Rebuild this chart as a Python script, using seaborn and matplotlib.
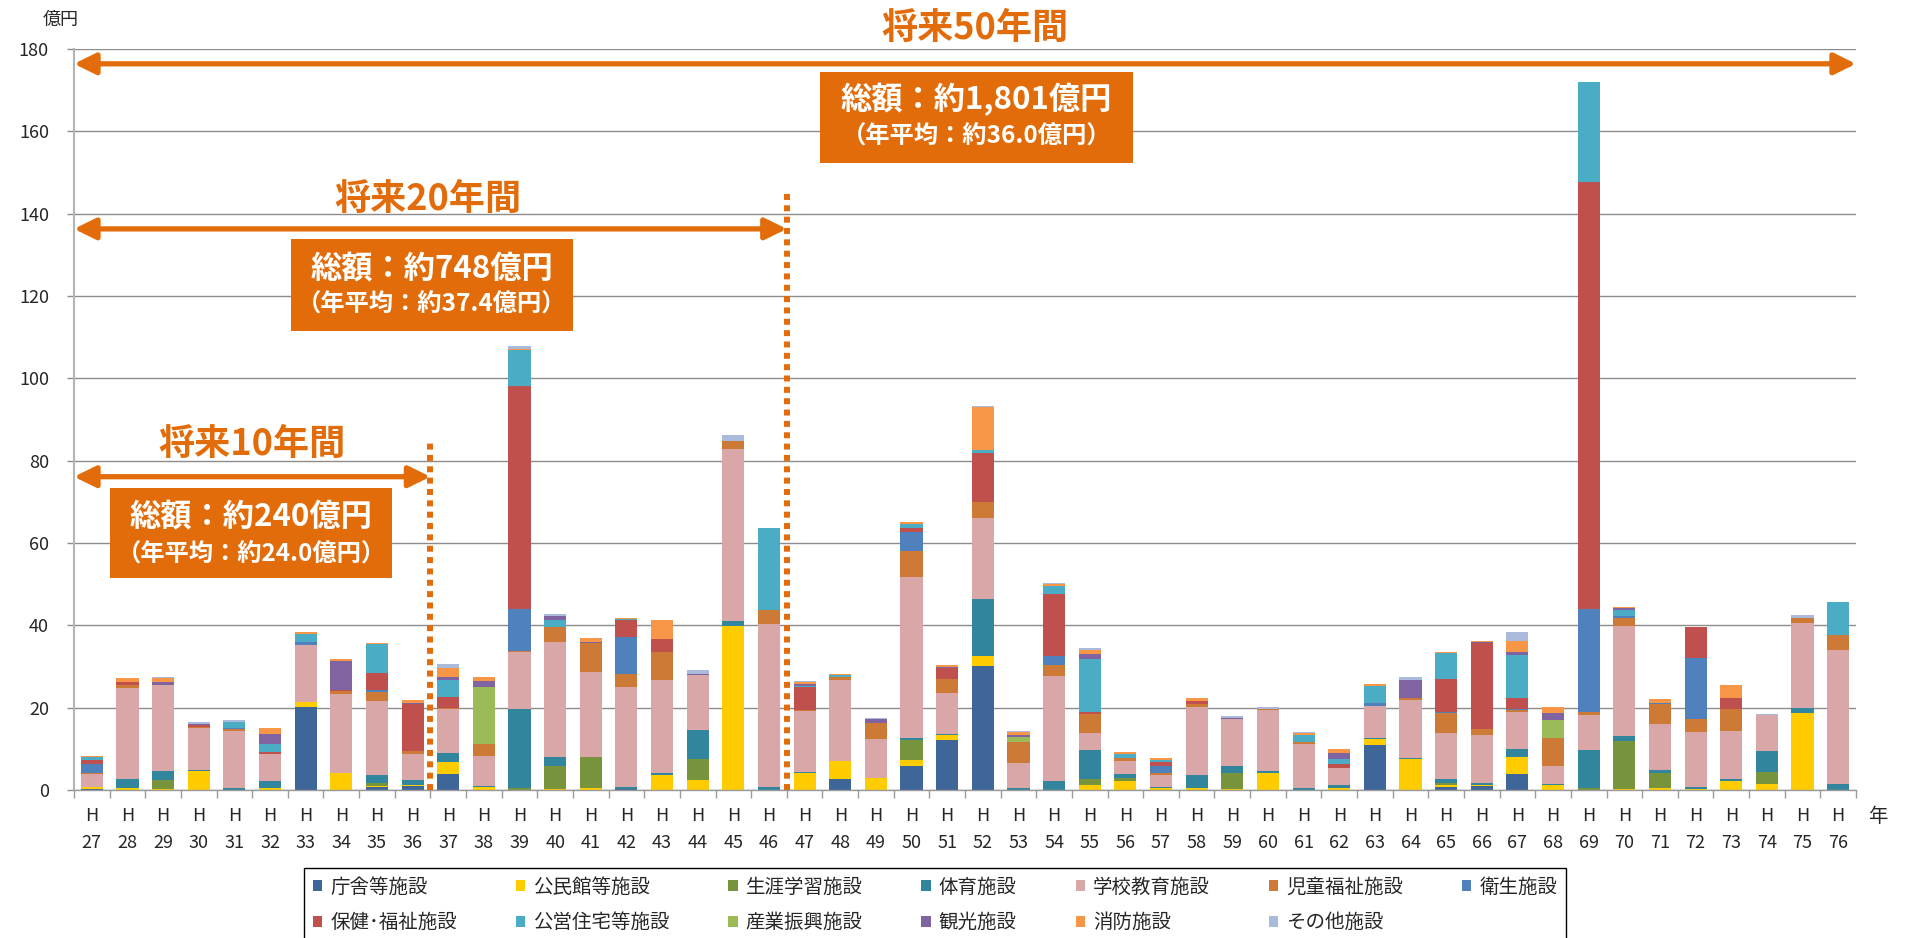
import numpy as np
import pandas as pd
import seaborn as sns
import matplotlib.pyplot as plt
from matplotlib.patches import Patch, Rectangle

# --- data (億円, H27..H76) ---
years = list(range(27, 77))

categories = ["庁舎等施設", "公民館等施設", "生涯学習施設", "体育施設", "学校教育施設",
              "児童福祉施設", "衛生施設", "保健･福祉施設", "公営住宅等施設", "産業振興施設",
              "観光施設", "消防施設", "その他施設"]

chosha = [0.2, 0, 0, 0, 0, 0, 20.1, 0, 0.8, 1.05,
          3.9, 0, 0, 0, 0, 0.25, 0, 0, 0, 0,
          0, 2.65, 0, 5.9, 12.15, 30.1, 0, 0, 0, 0,
          0, 0, 0, 0, 0, 0, 10.9, 0, 0.8, 1.05,
          3.9, 0, 0, 0, 0, 0, 0, 0, 0, 0]
kominkan = [0.5, 0.5, 0.2, 4.5, 0, 0.5, 1.3, 4.05, 0.25, 0.25,
            2.9, 0.65, 0, 0.3, 0.55, 0, 3.65, 2.4, 39.9, 0,
            4.05, 4.4, 3.0, 1.4, 1.3, 2.4, 0, 0, 1.2, 2.2,
            0.4, 0.55, 0.3, 4.1, 0, 0.55, 1.45, 7.5, 0.4, 0.15,
            4.0, 1.2, 0, 0.35, 0.6, 0.35, 2.2, 1.35, 18.6, 0]
shogai = [0, 0, 2.3, 0, 0, 0, 0, 0, 0.55, 0,
          0, 0, 0.55, 5.6, 7.4, 0, 0, 5.1, 0, 0,
          0, 0, 0, 4.85, 0, 0, 0, 0, 1.45, 0.8,
          0, 0, 3.8, 0, 0, 0, 0, 0, 0.55, 0,
          0, 0, 0.6, 11.6, 3.55, 0, 0, 2.95, 0, 0]
taiiku = [0, 2.1, 2.2, 0.4, 0.4, 1.6, 0, 0, 2.0, 1.1,
          2.2, 0.3, 19.1, 2.2, 0.15, 0.5, 0.5, 7.05, 1.15, 0.75,
          0.25, 0, 0, 0.5, 0.15, 13.85, 0.5, 2.2, 7.05, 0.9,
          0.3, 3.1, 1.7, 0.5, 0.55, 0.65, 0.3, 0.3, 1.0, 0.55,
          1.95, 0.25, 9.1, 1.2, 0.6, 0.5, 0.5, 5.15, 1.2, 1.35]
gakko = [3.3, 22.2, 20.9, 10.1, 14.0, 6.6, 13.9, 19.3, 18.0, 6.3,
         10.6, 7.4, 13.9, 27.9, 20.6, 24.3, 22.6, 13.4, 41.75, 39.6,
         14.9, 19.7, 9.4, 39.1, 10.0, 19.75, 6.1, 25.5, 4.2, 3.15,
         2.9, 16.5, 11.4, 14.9, 10.7, 4.2, 7.7, 14.1, 11.2, 11.6,
         9.2, 4.3, 8.4, 26.6, 11.4, 13.35, 11.75, 8.7, 20.8, 32.7]
jido = [0.2, 0.8, 0, 0.4, 0.4, 0, 0, 0.8, 2.2, 0.8,
        0.3, 2.8, 0.25, 3.7, 6.9, 3.15, 6.8, 0, 2.0, 3.3,
        0.25, 0.8, 3.8, 6.3, 3.4, 3.9, 5.1, 2.7, 4.6, 0.8,
        0.5, 0.8, 0, 0.25, 0.4, 0, 0, 0.55, 4.85, 1.45,
        0.3, 6.95, 0.75, 2.1, 4.65, 2.95, 5.15, 0, 1.1, 3.55]
eisei = [2.0, 0, 0, 0, 0.2, 0, 0.55, 0, 0.5, 0,
         0, 0, 10.1, 0, 0, 8.9, 0, 0, 0, 0,
         0, 0, 0, 4.7, 0, 0, 0, 2.2, 0, 0,
         1.7, 0, 0, 0, 0, 0, 0.8, 0, 0.25, 0,
         0.25, 0, 25.05, 0.35, 0.35, 14.9, 0, 0, 0, 0]
hoken = [1.0, 0.65, 0, 0.4, 0, 0.65, 0, 0.2, 4.05, 11.3,
         2.7, 0, 54.2, 0, 0, 4.2, 3.15, 0, 0, 0,
         5.5, 0, 0, 0.9, 2.6, 11.8, 0, 15.1, 0.4, 0,
         1.0, 0.65, 0, 0, 0, 0.9, 0, 0, 7.95, 20.8,
         2.85, 0, 103.7, 0, 0, 7.45, 2.8, 0, 0, 0]
koei = [0.8, 0, 0, 0, 1.6, 1.9, 2.1, 0, 7.1, 0,
        4.0, 0, 8.8, 1.6, 0, 0.25, 0, 0, 0, 19.9,
        0.3, 0.3, 0, 1.0, 0, 0.9, 0, 1.95, 12.9, 1.0,
        0.5, 0, 0, 0, 1.8, 1.2, 4.2, 0, 6.25, 0,
        10.35, 0, 24.5, 1.6, 0, 0, 0, 0, 0, 7.95]
sangyo = [0, 0, 0, 0, 0, 0, 0, 0, 0, 0,
          0, 13.85, 0, 0, 0, 0, 0, 0, 0, 0,
          0, 0, 0, 0, 0, 0, 1.2, 0, 0, 0,
          0, 0, 0, 0, 0, 0, 0, 0, 0, 0,
          0, 4.2, 0, 0, 0, 0, 0, 0, 0, 0]
kanko = [0, 0, 0.7, 0.2, 0, 2.4, 0, 7.05, 0, 0.25,
         0.9, 1.45, 0, 1.05, 0.25, 0, 0, 0.3, 0, 0,
         0.4, 0, 1.0, 0, 0.4, 0, 0.5, 0, 1.2, 0,
         0, 0, 0.3, 0, 0, 1.45, 0, 4.2, 0, 0.25,
         0.75, 1.7, 0, 0.35, 0, 0, 0, 0, 0, 0]
shobo = [0.3, 1.0, 0.9, 0, 0, 1.4, 0.4, 0.5, 0.25, 0.8,
         2.2, 1.1, 0.2, 0, 1.05, 0.25, 4.6, 0, 0, 0,
         0.5, 0.3, 0, 0.4, 0.25, 10.4, 0.8, 0.5, 1.0, 0.4,
         0.4, 0.65, 0, 0, 0.5, 0.95, 0.3, 0, 0.3, 0.3,
         2.65, 1.5, 0, 0.35, 1.0, 0, 3.05, 0, 0, 0]
sonota = [0, 0, 0.3, 0.4, 0.4, 0, 0, 0, 0, 0,
          1.0, 0, 0.7, 0.4, 0, 0, 0, 0.9, 1.4, 0,
          0.3, 0, 0.3, 0, 0, 0.25, 0.25, 0.25, 0.5, 0,
          0, 0, 0.4, 0.3, 0.25, 0, 0, 0.8, 0, 0,
          2.2, 0, 0, 0, 0, 0, 0, 0.25, 0.85, 0]

colors = ["#3E6699", "#FFCC00", "#77933C", "#31859C", "#D9A7A8", "#CD7A36", "#4F81BD",
          "#C0504D", "#4BACC6", "#9BBB59", "#8064A2", "#F79646", "#A9BADB"]

orange = "#E36C0A"

df = pd.DataFrame(dict(zip(categories, [chosha, kominkan, shogai, taiiku, gakko, jido, eisei,
                                        hoken, koei, sangyo, kanko, shobo, sonota])))
cum = df.cumsum(axis=1)
xlabels = [f"H\n{y}" for y in years]

sns.set_theme(style="white")
plt.rcParams["font.family"] = ["Noto Sans CJK JP", "DejaVu Sans"]

fig = plt.figure(figsize=(19.13, 9.38), dpi=100)
ax = fig.add_axes([74 / 1913, 148 / 938, 1782 / 1913, 741 / 938])

# stacked bars: draw cumulative totals from the top layer down
for cat, col in zip(reversed(categories), reversed(colors)):
    sns.barplot(x=xlabels, y=cum[cat].values, color=col, width=0.62, linewidth=0,
                saturation=1, errorbar=None, ax=ax)

ax.set_xlim(-0.5, 49.5)
ax.set_ylim(0, 180)
ax.set_yticks(range(0, 181, 20))
ax.set_xlabel("")
ax.set_ylabel("")
ax.set_axisbelow(True)
ax.yaxis.grid(True, color="#8c8c8c", lw=1)
ax.xaxis.grid(False)
for s in ["top", "right"]:
    ax.spines[s].set_visible(False)
ax.spines["left"].set_color("#b4b4b4")
ax.spines["left"].set_linewidth(1.5)
ax.spines["bottom"].set_color("#9a9a9a")
ax.spines["bottom"].set_linewidth(1)
ax.tick_params(axis="y", length=5, width=1, color="#8c8c8c", pad=13, labelsize=13, left=True)
ax.tick_params(axis="x", which="major", length=0, pad=12, labelsize=13)
ax.set_xticks(np.arange(-0.5, 50, 1), minor=True)
ax.tick_params(axis="x", which="minor", length=6, width=1, color="#9a9a9a", bottom=True)
for t in ax.get_xticklabels():
    t.set_linespacing(1.65)

# period arrows and dotted boundaries
arrow_kw = dict(arrowstyle="<|-|>,head_length=0.65,head_width=0.32", color=orange, lw=3.8,
                shrinkA=0, shrinkB=0, mutation_scale=20)
for x_end, y_arr in [(49.5, 176.4), (19.5, 136.3), (9.5, 76.1)]:
    ax.annotate("", xy=(x_end, y_arr), xytext=(-0.5, y_arr), arrowprops=arrow_kw,
                annotation_clip=False, zorder=4)
for x_line, y_top in [(9.5, 84.3), (19.5, 146.0)]:
    ax.plot([x_line, x_line], [0, y_top], color=orange, lw=4.3, linestyle=(0, (1, 0.9)),
            dash_capstyle="butt", zorder=4, clip_on=False)

# titles and summary boxes
title_kw = dict(color=orange, fontsize=26, fontweight="bold", ha="center", va="center", zorder=6)
ax.text(4.5, 84.0, "将来10年間", **title_kw)
ax.text(9.42, 143.4, "将来20年間", **title_kw)
ax.text(24.78, 185.0, "将来50年間", clip_on=False, **title_kw)

boxes = [
    ((0.51, 51.5), 8.42 - 0.51, 73.4 - 51.5, "総額：約240億円", "（年平均：約24.0億円）", 66.1, 57.1),
    ((5.59, 111.5), 13.5 - 5.59, 133.9 - 111.5, "総額：約748億円", "（年平均：約37.4億円）", 126.4, 117.9),
    ((20.43, 152.4), 29.21 - 20.43, 174.5 - 152.4, "総額：約1,801億円", "（年平均：約36.0億円）", 167.7, 158.7),
]
for (x0, y0), w, h, line1, line2, y1, y2 in boxes:
    ax.add_patch(Rectangle((x0, y0), w, h, facecolor=orange, edgecolor="none", zorder=5,
                           clip_on=False))
    ax.text(x0 + w / 2, y1, line1, color="white", fontsize=22.5, fontweight="bold",
            ha="center", va="center", zorder=6)
    ax.text(x0 + w / 2, y2, line2, color="white", fontsize=17.5, fontweight="bold",
            ha="center", va="center", zorder=6)

fig.text(61 / 1913, 1 - 20 / 938, "億円", fontsize=13, ha="center", va="center")
fig.text(1878 / 1913, 1 - 816 / 938, "年", fontsize=14, ha="center", va="center")

# legend, filled row by row
handles = [Patch(facecolor=c, edgecolor="none") for c in colors]
order = [0, 7, 1, 8, 2, 9, 3, 10, 4, 11, 5, 12, 6]
leg = fig.legend([handles[i] for i in order], [categories[i] for i in order],
                 loc="upper left", bbox_to_anchor=(304 / 1913, 0.0, 1262 / 1913, 70 / 938),
                 mode="expand", ncol=7, fontsize=14, frameon=True, fancybox=False,
                 edgecolor="black", framealpha=1, borderpad=0.45, labelspacing=0.75,
                 handlelength=0.5, handleheight=0.5, handletextpad=0.4, borderaxespad=0)
leg.get_frame().set_linewidth(1)

fig.savefig("out.png", dpi=100)
